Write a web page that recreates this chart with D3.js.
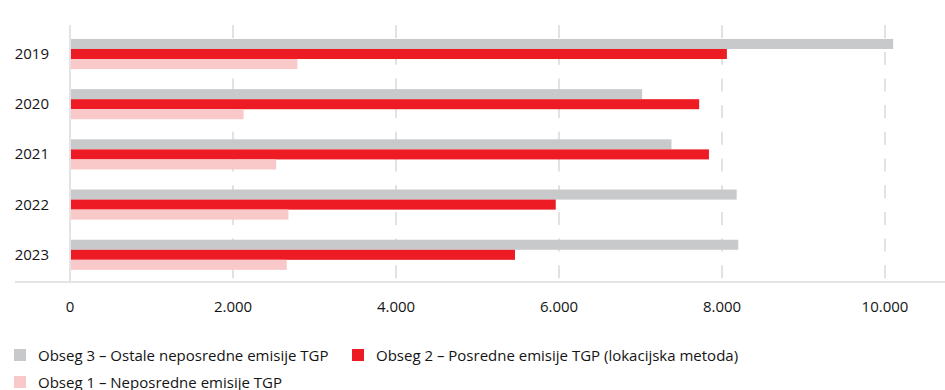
<!DOCTYPE html>
<html>
<head>
<meta charset="utf-8">
<script src="https://cdn.jsdelivr.net/npm/d3@7/dist/d3.min.js"></script>
<style>
  body { margin: 0; background: #fff; }
  svg { display: block; font-family: "Open Sans", sans-serif; }
</style>
</head>
<body>
<svg id="chart" width="945" height="390"></svg>
<script>
// data
var years = ["2019", "2020", "2021", "2022", "2023"];
var obseg3 = [10100, 7020, 7380, 8180, 8200];
var obseg2 = [8060, 7720, 7840, 5960, 5460];
var obseg1 = [2790, 2130, 2530, 2680, 2660];
var seriesNames = [
    "Obseg 3 – Ostale neposredne emisije TGP",
    "Obseg 2 – Posredne emisije TGP (lokacijska metoda)",
    "Obseg 1 – Neposredne emisije TGP"
];
var xTicks = [0, 2000, 4000, 6000, 8000, 10000];

var colors = ["#c8c9cb", "#ed1c24", "#f9c9ca"];
var allSeries = [obseg3, obseg2, obseg1];

var svg = d3.select("#chart");

var x = d3.scaleLinear().domain([0, 10000]).range([70, 885]);

var y = d3.scaleBand()
    .domain(years)
    .range([28.9, 279.9])
    .paddingInner(0.4)
    .paddingOuter(0.2);

var ySub = d3.scaleBand()
    .domain(d3.range(allSeries.length))
    .range([0, y.bandwidth()]);

var locale = d3.formatLocale({decimal: ",", thousands: ".", grouping: [3], currency: ["", ""]});
var fmt = locale.format(",");

// gridlines
svg.append("g")
    .selectAll("line")
    .data(xTicks.slice(1))
    .enter().append("line")
    .attr("x1", function (d) { return x(d); })
    .attr("x2", function (d) { return x(d); })
    .attr("y1", 25)
    .attr("y2", 281)
    .attr("stroke", "#e2e2e2")
    .attr("stroke-width", 2)
    .attr("stroke-dasharray", "13,13.7");

// axis lines
svg.append("line")
    .attr("x1", 15).attr("x2", 945)
    .attr("y1", 282).attr("y2", 282)
    .attr("stroke", "#e4e4e4")
    .attr("stroke-width", 2);

svg.append("line")
    .attr("x1", x(0)).attr("x2", x(0))
    .attr("y1", 25).attr("y2", 282)
    .attr("stroke", "#e4e4e4")
    .attr("stroke-width", 2);

// bars
var groups = svg.append("g")
    .selectAll("g")
    .data(years)
    .enter().append("g")
    .attr("transform", function (d) { return "translate(0," + y(d) + ")"; });

groups.selectAll("rect")
    .data(function (d, i) {
        return allSeries.map(function (s, k) { return {k: k, v: s[i]}; });
    })
    .enter().append("rect")
    .attr("x", x(0) + 1)
    .attr("y", function (d) { return ySub(d.k); })
    .attr("width", function (d) { return x(d.v) - x(0) - 1; })
    .attr("height", ySub.bandwidth())
    .attr("fill", function (d) { return colors[d.k]; });

// y labels
svg.append("g")
    .selectAll("text")
    .data(years)
    .enter().append("text")
    .attr("x", 49)
    .attr("y", function (d) { return y(d) + y.bandwidth() / 2 + 5; })
    .attr("text-anchor", "end")
    .attr("font-size", 15)
    .attr("fill", "#141414")
    .text(function (d) { return d; });

// x tick labels
svg.append("g")
    .selectAll("text")
    .data(xTicks)
    .enter().append("text")
    .attr("x", function (d) { return x(d); })
    .attr("y", 311.5)
    .attr("text-anchor", "middle")
    .attr("font-size", 15)
    .attr("fill", "#141414")
    .text(function (d) { return fmt(d); });

// legend
var legendPos = [[14, 349], [352, 349], [14, 376]];
var legend = svg.append("g")
    .selectAll("g")
    .data(seriesNames)
    .enter().append("g")
    .attr("transform", function (d, i) {
        return "translate(" + legendPos[i][0] + "," + legendPos[i][1] + ")";
    });

legend.append("rect")
    .attr("width", 12)
    .attr("height", 12)
    .attr("fill", function (d, i) { return colors[i]; });

legend.append("text")
    .attr("x", 24)
    .attr("y", 11.5)
    .attr("font-size", 15)
    .attr("fill", "#141414")
    .text(function (d) { return d; });
</script>
</body>
</html>
